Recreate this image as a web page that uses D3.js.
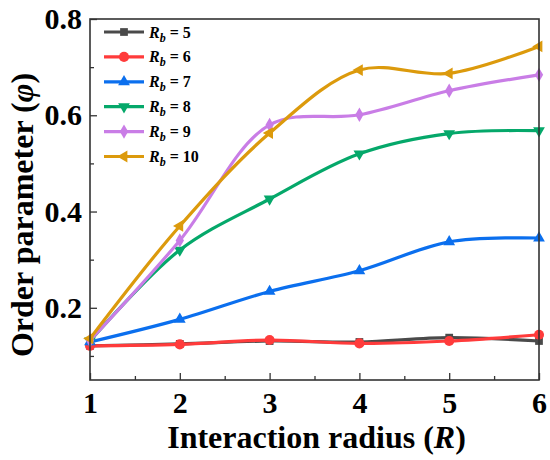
<!DOCTYPE html>
<html><head><meta charset="utf-8">
<script src="https://cdn.jsdelivr.net/npm/d3@7"></script>
<style>
html,body{margin:0;padding:0;background:#fff;}
svg{display:block;font-family:"Liberation Serif","Times New Roman",serif;font-weight:bold;}
</style></head>
<body>
<svg id="chart" width="550" height="460"></svg>
<script>
const radius = [1, 2, 3, 4, 5, 6];
const rb5  = [0.121, 0.125, 0.131, 0.129, 0.138, 0.131];
const rb6  = [0.121, 0.124, 0.133, 0.126, 0.131, 0.144];
const rb7  = [0.129, 0.176, 0.234, 0.277, 0.337, 0.345];
const rb8  = [0.131, 0.320, 0.426, 0.520, 0.562, 0.568];
const rb9  = [0.132, 0.340, 0.580, 0.601, 0.651, 0.684];
const rb10 = [0.136, 0.370, 0.563, 0.694, 0.687, 0.743];
const seriesNames = ["5", "6", "7", "8", "9", "10"];
const xTicks = [1, 2, 3, 4, 5, 6];
const xMinor = [1.5, 2.5, 3.5, 4.5, 5.5];
const yTicks = [0.2, 0.4, 0.6, 0.8];
const yMinor = [0.1, 0.3, 0.5, 0.7];

const colors = ["#4a4a4a", "#ff3b3b", "#0b6fee", "#05a86a", "#c97de6", "#dc9a0c"];
const shapes = [
  {t: d3.symbolSquare, r: 0},
  {t: d3.symbolCircle, r: 0},
  {t: d3.symbolTriangle, r: 0},
  {t: d3.symbolTriangle, r: 180},
  {t: d3.symbolDiamond, r: 0},
  {t: d3.symbolTriangle, r: -90}
];
const allSeries = [rb5, rb6, rb7, rb8, rb9, rb10];

const svg = d3.select("#chart");
const L = 90, R = 539, T = 19, B = 380;
const x = d3.scaleLinear().domain([1, 6]).range([L, R]);
const y = d3.scaleLinear().domain([0.05, 0.8]).range([B, T]);

// minor ticks
const gx = svg.append("g").attr("transform", `translate(0,${B})`);
gx.call(d3.axisBottom(x).tickValues(xMinor).tickSize(-4).tickFormat(""));
const gx2 = svg.append("g").attr("transform", `translate(0,${B})`);
gx2.call(d3.axisBottom(x).tickValues(xTicks).tickSize(-7).tickPadding(12).tickFormat(d3.format("d")));
const gy = svg.append("g").attr("transform", `translate(${L},0)`);
gy.call(d3.axisLeft(y).tickValues(yMinor).tickSize(-4).tickFormat(""));
const gy2 = svg.append("g").attr("transform", `translate(${L},0)`);
gy2.call(d3.axisLeft(y).tickValues(yTicks).tickSize(-7).tickPadding(8).tickFormat(d3.format(".1f")));
[gx, gx2, gy, gy2].forEach(g => {
  g.select(".domain").remove();
  g.selectAll(".tick line").attr("stroke", "#333").attr("stroke-width", 1.3);
  g.selectAll(".tick text").attr("font-family", "Liberation Serif").attr("font-weight", "bold")
    .attr("font-size", 30).attr("fill", "#000");
});

// lines
const line = d3.line().x((d, i) => x(radius[i])).y(d => y(d)).curve(d3.curveCatmullRom.alpha(0.5));
allSeries.forEach((s, k) => {
  svg.append("path").datum(s).attr("d", line).attr("fill", "none")
    .attr("stroke", colors[k]).attr("stroke-width", 3.2);
  svg.append("g").selectAll("path").data(s).join("path")
    .attr("d", d3.symbol().type(shapes[k].t).size(shapes[k].t === d3.symbolCircle ? 80 : 60))
    .attr("transform", (d, i) => `translate(${x(radius[i])},${y(d)}) rotate(${shapes[k].r})`)
    .attr("fill", colors[k]);
});

// frame
svg.append("rect").attr("x", L).attr("y", T).attr("width", R - L).attr("height", B - T)
  .attr("fill", "none").attr("stroke", "#333").attr("stroke-width", 1.6);

// legend
const leg = svg.append("g");
seriesNames.forEach((n, k) => {
  const yy = 32 + k * 24.9;
  leg.append("line").attr("x1", 104).attr("x2", 144).attr("y1", yy).attr("y2", yy)
    .attr("stroke", colors[k]).attr("stroke-width", 3.2);
  leg.append("path").attr("d", d3.symbol().type(shapes[k].t).size(shapes[k].t === d3.symbolCircle ? 80 : 60))
    .attr("transform", `translate(124,${yy}) rotate(${shapes[k].r})`).attr("fill", colors[k]);
  const t = leg.append("text").attr("x", 149).attr("y", yy + 5.5).attr("font-size", 16).attr("fill", "#000");
  t.append("tspan").attr("font-style", "italic").text("R");
  t.append("tspan").attr("font-style", "italic").attr("font-size", 12).attr("dy", 4).text("b");
  t.append("tspan").attr("dy", -4).text(" = " + n);
});

// axis titles
const xt = svg.append("text").attr("x", (L + R) / 2 + 2).attr("y", 448).attr("text-anchor", "middle")
  .attr("font-size", 32).attr("fill", "#000");
xt.append("tspan").text("Interaction radius (");
xt.append("tspan").attr("font-style", "italic").text("R");
xt.append("tspan").text(")");

const yt = svg.append("text").attr("transform", `translate(33,215) rotate(-90)`)
  .attr("text-anchor", "middle").attr("font-size", 32).attr("fill", "#000");
yt.append("tspan").text("Order parameter (");
yt.append("tspan").attr("font-style", "italic").text("φ");
yt.append("tspan").text(")");
</script>
</body></html>
